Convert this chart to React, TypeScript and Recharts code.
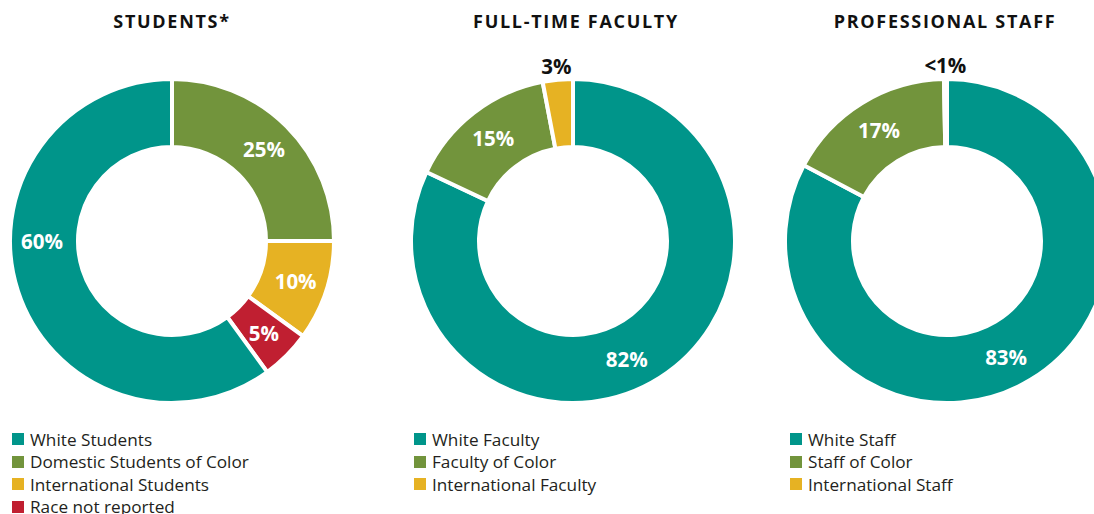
import { PieChart, Pie, Cell } from "recharts";

// Cac nhom va ty le (%) doc tu hinh, theo chieu kim dong ho tu dinh
const studentNames = ["Domestic Students of Color", "International Students", "Race not reported", "White Students"];
const studentValues = [25, 10, 5, 60];
const studentColors = ["#72943c", "#e6b223", "#c01f31", "#00958a"];

const facultyNames = ["White Faculty", "Faculty of Color", "International Faculty"];
const facultyValues = [82, 15, 3];
const facultyColors = ["#00958a", "#72943c", "#e6b223"];

const staffNames = ["White Staff", "Staff of Color", "International Staff"];
const staffValues = [83, 17, 0.3];
const staffColors = ["#00958a", "#72943c", "#e6b223"];

const studentLegend = ["White Students", "Domestic Students of Color", "International Students", "Race not reported"];
const studentLegendColors = ["#00958a", "#72943c", "#e6b223", "#c01f31"];

const titles = ["STUDENTS*", "FULL-TIME FACULTY", "PROFESSIONAL STAFF"];

const toRows = (names: string[], values: number[]) =>
  names.map((name, i) => ({ name, value: values[i] }));

const FONT = "'Open Sans', sans-serif";
const RAD = Math.PI / 180;

// dich goc nhan cho vai lat lon (do), giong ban goc
const LABEL_SHIFT: Record<string, number> = {
  "White Students": -18,
  "White Faculty": -8,
  "White Staff": -4,
};

function renderLabel(props: any) {
  const { cx, cy, midAngle, innerRadius, outerRadius, value, name } = props;
  const small = value < 5;
  const r = small ? outerRadius + 14 : (innerRadius + outerRadius) / 2 + 2;
  const a = midAngle + (LABEL_SHIFT[name] ?? 0);
  const x = cx + r * Math.cos(-a * RAD);
  const y = cy + r * Math.sin(-a * RAD);
  const text = value < 1 ? "<1%" : `${value}%`;
  return (
    <text
      x={x}
      y={y}
      textAnchor="middle"
      dominantBaseline="central"
      fill={small ? "#111" : "#fff"}
      fontFamily={FONT}
      fontWeight={700}
      fontSize={20.5}
    >
      {text}
    </text>
  );
}

// tam cua moi vong (chart co margin 5px mac dinh)
const CENTERS = [167, 568, 942];
const CY = 236;
const TITLE_X = [172, 576, 945];

function Legend({ names, colors, left }: { names: string[]; colors: string[]; left: number }) {
  return (
    <div style={{ position: "absolute", left, top: 428 }}>
      {names.map((n, i) => (
        <div key={n} style={{ display: "flex", alignItems: "center", height: 22.5 }}>
          <span style={{ width: 12, height: 12, background: colors[i], marginRight: 6, flexShrink: 0 }} />
          <span style={{ fontFamily: FONT, fontSize: 17.2, color: "#231f20", whiteSpace: "nowrap" }}>{n}</span>
        </div>
      ))}
    </div>
  );
}

export default function App() {
  const pies = [
    { data: toRows(studentNames, studentValues), colors: studentColors },
    { data: toRows(facultyNames, facultyValues), colors: facultyColors },
    { data: toRows(staffNames, staffValues), colors: staffColors },
  ];
  return (
    <div style={{ position: "absolute", left: 0, top: 0, width: 1094, height: 514, overflow: "hidden", background: "#fff" }}>
      {titles.map((t, i) => (
        <div
          key={t}
          style={{
            position: "absolute",
            left: TITLE_X[i] - 150,
            width: 300,
            top: 9,
            textAlign: "center",
            fontFamily: FONT,
            fontWeight: 700,
            fontSize: 18,
            letterSpacing: 1.7,
            color: "#111",
          }}
        >
          {t}
        </div>
      ))}
      <div style={{ position: "absolute", left: 0, top: 0 }}>
        <PieChart width={1094} height={420}>
          {pies.map((p, k) => (
            <Pie
              key={k}
              data={p.data}
              dataKey="value"
              nameKey="name"
              cx={CENTERS[k]}
              cy={CY}
              innerRadius={94}
              outerRadius={162}
              startAngle={90}
              endAngle={-270}
              stroke="#fff"
              strokeWidth={4}
              label={renderLabel}
              labelLine={false}
              isAnimationActive={false}
            >
              {p.data.map((d, i) => (
                <Cell key={d.name} fill={p.colors[i]} />
              ))}
            </Pie>
          ))}
        </PieChart>
      </div>
      <Legend names={studentLegend} colors={studentLegendColors} left={12} />
      <Legend names={facultyNames} colors={facultyColors} left={414} />
      <Legend names={staffNames} colors={staffColors} left={790} />
    </div>
  );
}
